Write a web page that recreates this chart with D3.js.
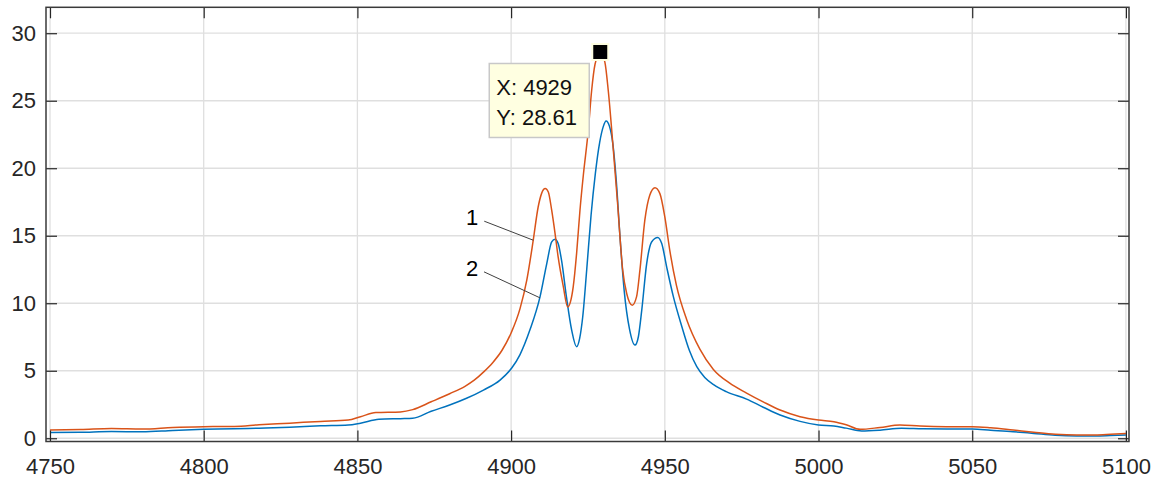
<!DOCTYPE html>
<html>
<head>
    <title>Spectrum</title>
    <script src="https://d3js.org/d3.v7.min.js"></script>
    <style>
      body { margin: 0; background: #fff; }
    </style>
</head>
<body>
    <div id="chart"></div>
    <script>

// curve 1 (orange)
const x1 = [4750, 4760, 4770, 4780, 4790, 4800, 4810, 4818, 4828, 4838, 4847, 4851, 4856, 4864, 4868,
  4874, 4880, 4885, 4888, 4891, 4894, 4897, 4900, 4902.9, 4905.1, 4907.2, 4908.8, 4909.9, 4911.1, 4912.1,
  4913.2, 4914.3, 4915.3, 4917, 4918.4, 4919.3, 4920.2, 4921.3, 4922.4, 4923.5, 4925.1, 4926.2, 4927.3,
  4929, 4930.5, 4931.6, 4933.2, 4934.6, 4936.3, 4937.6, 4939.4, 4940.8, 4941.9, 4943.5, 4945.1, 4946.8,
  4948.4, 4950, 4951.7, 4953.8, 4957.1, 4961.4, 4965.8, 4971, 4976.6, 4982, 4987.5, 4994, 5000, 5005,
  5009, 5013.5, 5020, 5026.5, 5033, 5041.6, 5050, 5056, 5063.3, 5070, 5077, 5084, 5090, 5095, 5100];
const y1 = [0.62, 0.65, 0.72, 0.68, 0.8, 0.86, 0.88, 1.0, 1.12, 1.25, 1.35, 1.6, 1.9, 1.95, 2.12,
  2.7, 3.3, 3.85, 4.3, 4.9, 5.6, 6.5, 7.8, 9.6, 11.71, 14.67, 17.13, 18.12, 18.49, 18.24,
  16.89, 15.16, 13.43, 11.21, 9.73, 10.1, 11.21, 13.68, 16.89, 19.5, 22.8, 25.76, 27.7,
  28.61, 27.86, 25.76, 21.5, 17.5, 12.45, 10.72, 9.86, 10.47, 12.45, 16.15, 18.0, 18.56,
  18.12, 16.4, 13.8, 11.3, 8.8, 6.6, 5.1, 4.1, 3.35, 2.7, 2.09, 1.6, 1.35, 1.23,
  1.0, 0.66, 0.8, 0.98, 0.9, 0.86, 0.86, 0.78, 0.61, 0.45, 0.3, 0.24, 0.25, 0.3, 0.36];

// curve 2 (blue)
const x2 = [4750, 4760, 4770, 4780, 4790, 4800, 4810, 4818, 4828, 4838, 4847, 4851, 4857, 4864, 4868,
  4874, 4880, 4885.5, 4891, 4896.4, 4900.2, 4902.9, 4906.1, 4909.4, 4911.6, 4913.2, 4914.3, 4915.3,
  4916.4, 4918, 4919.7, 4921.3, 4922.3, 4923.3, 4924.6, 4926, 4927.4, 4928.8, 4930, 4930.9, 4932, 4933.1,
  4934.2, 4935.4, 4936.8, 4938.5, 4940.3, 4941.4, 4942.5, 4944.1, 4945.7, 4947.7, 4949, 4950.6, 4952.8,
  4955.5, 4958, 4960.4, 4963, 4966, 4970, 4976.6, 4982, 4987.5, 4994, 5000, 5005, 5009, 5014, 5020, 5027,
  5034, 5041.6, 5050, 5056, 5063.3, 5070, 5077, 5084, 5090, 5095, 5100];
const y2 = [0.42, 0.44, 0.5, 0.48, 0.58, 0.66, 0.7, 0.75, 0.82, 0.92, 0.98, 1.12, 1.4, 1.45, 1.48,
  2.0, 2.46, 2.96, 3.57, 4.31, 5.2, 6.2, 8.01, 10.47, 12.94, 14.54, 14.74, 14.42,
  13.19, 10.47, 8.01, 6.78, 7.4, 9.0, 12.5, 16.5, 19.6, 21.9, 23.1, 23.5, 23.1, 21.8,
  19.1, 15.0, 10.9, 8.1, 6.9, 7.52, 9.49, 12.94, 14.54, 14.87, 14.42, 12.69, 10.47,
  8.3, 6.5, 5.3, 4.5, 3.95, 3.45, 2.9, 2.3, 1.72, 1.25, 0.98, 0.91, 0.75, 0.54, 0.6, 0.74,
  0.7, 0.69, 0.69, 0.6, 0.49, 0.36, 0.22, 0.17, 0.17, 0.2, 0.24];

const xTicks = [4750, 4800, 4850, 4900, 4950, 5000, 5050, 5100];
const yTicks = [0, 5, 10, 15, 20, 25, 30];

const tipX = 4929, tipY = 28.61;   // data tip on curve 1

const width = 1162, height = 481;
const plotLeft = 46, plotRight = 1129, plotTop = 7.3, plotBottom = 441.5;

const x = d3.scaleLinear().domain([4748.7, 5101]).range([plotLeft, plotRight]);
const y = d3.scaleLinear().domain([-0.24, 31.92]).range([plotBottom, plotTop]);

const svg = d3.create("svg")
    .attr("width", width)
    .attr("height", height)
    .attr("font-family", "'Liberation Sans', Arial, sans-serif");

// grid
svg.append("g")
    .attr("stroke", "#dfdfdf")
    .attr("stroke-width", 1.3)
  .selectAll("line")
  .data(xTicks)
  .join("line")
    .attr("x1", d => x(d)).attr("x2", d => x(d))
    .attr("y1", plotTop).attr("y2", plotBottom);

svg.append("g")
    .attr("stroke", "#dfdfdf")
    .attr("stroke-width", 1.3)
  .selectAll("line")
  .data(yTicks)
  .join("line")
    .attr("x1", plotLeft).attr("x2", plotRight)
    .attr("y1", d => y(d)).attr("y2", d => y(d));

// curves
const line = d3.line()
    .curve(d3.curveMonotoneX)
    .x(d => x(d[0]))
    .y(d => y(d[1]));

svg.append("path")
    .datum(d3.zip(x2, y2))
    .attr("fill", "none")
    .attr("stroke", "#0072BD")
    .attr("stroke-width", 1.5)
    .attr("d", line);

svg.append("path")
    .datum(d3.zip(x1, y1))
    .attr("fill", "none")
    .attr("stroke", "#D95319")
    .attr("stroke-width", 1.5)
    .attr("d", line);

// axes, ticks inward on all four sides
const tickStyle = g => {
  g.select(".domain").remove();
  g.selectAll(".tick line").attr("stroke", "#262626").attr("stroke-width", 1.2);
  g.selectAll(".tick text").attr("fill", "#262626").attr("font-size", 22);
};

svg.append("g")
    .attr("transform", `translate(0,${plotBottom})`)
    .call(d3.axisBottom(x).tickValues(xTicks).tickSize(-11).tickPadding(17).tickFormat(d3.format("d")))
    .call(tickStyle);

svg.append("g")
    .attr("transform", `translate(0,${plotTop})`)
    .call(d3.axisTop(x).tickValues(xTicks).tickSize(-11).tickFormat(""))
    .call(tickStyle);

svg.append("g")
    .attr("transform", `translate(${plotLeft},0)`)
    .call(d3.axisLeft(y).tickValues(yTicks).tickSize(-11).tickPadding(10).tickFormat(d3.format("d")))
    .call(tickStyle);

svg.append("g")
    .attr("transform", `translate(${plotRight},0)`)
    .call(d3.axisRight(y).tickValues(yTicks).tickSize(-11).tickFormat(""))
    .call(tickStyle);

svg.append("rect")
    .attr("x", plotLeft).attr("y", plotTop)
    .attr("width", plotRight - plotLeft).attr("height", plotBottom - plotTop)
    .attr("fill", "none")
    .attr("stroke", "#3a3a3a")
    .attr("stroke-width", 1.5);

// curve labels with leader lines
const labels = [
  {text: "1", px: 4907.2, py: 14.67, dx: -49, dy: -19},
  {text: "2", px: 4909.4, py: 10.4, dx: -56, dy: -26}
];
labels.forEach(l => {
  const ex = x(l.px), ey = y(l.py);
  svg.append("line")
      .attr("x1", ex + l.dx).attr("y1", ey + l.dy)
      .attr("x2", ex).attr("y2", ey)
      .attr("stroke", "#404040")
      .attr("stroke-width", 1);
  svg.append("text")
      .attr("x", ex + l.dx - 12).attr("y", ey + l.dy - 4)
      .attr("text-anchor", "middle")
      .attr("dy", "0.35em")
      .attr("font-size", 22)
      .attr("fill", "#000")
      .text(l.text);
});

// data tip
const mx = x(tipX), my = y(tipY);
const tip = svg.append("g");
tip.append("rect")
    .attr("x", mx - 111).attr("y", my + 11.5)
    .attr("width", 100).attr("height", 74)
    .attr("fill", "#ffffe1")
    .attr("stroke", "#c8c8c8")
    .attr("stroke-width", 1.5);
tip.append("text")
    .attr("x", mx - 104).attr("y", my + 43.5)
    .attr("font-size", 22)
    .attr("fill", "#111")
    .text(`X: ${tipX}`);
tip.append("text")
    .attr("x", mx - 104).attr("y", my + 73.5)
    .attr("font-size", 22)
    .attr("fill", "#111")
    .text(`Y: ${tipY}`);
tip.append("rect")
    .attr("x", mx - 8).attr("y", my - 8)
    .attr("width", 16).attr("height", 16)
    .attr("fill", "#000")
    .attr("stroke", "#ffffe1")
    .attr("stroke-width", 2);

document.getElementById('chart').appendChild(svg.node());

    </script>
</body>
</html>
